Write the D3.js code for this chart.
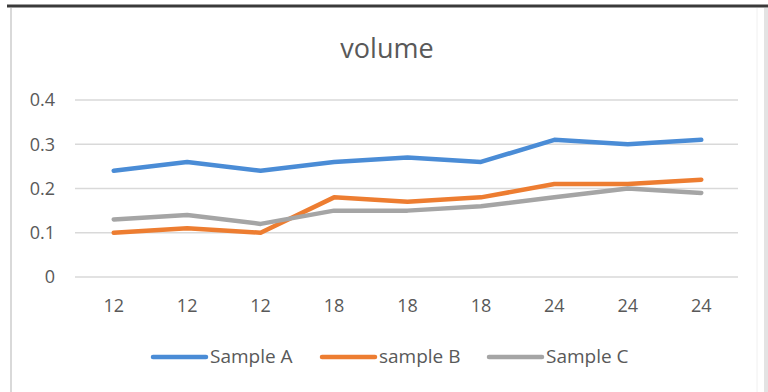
<!DOCTYPE html>
<html>
<head>
<meta charset="utf-8">
<script src="https://cdn.jsdelivr.net/npm/d3@7"></script>
<style>
  body { margin: 0; background: #fff; }
  svg { display: block; font-family: "Open Sans", "Noto Sans", sans-serif; }
</style>
</head>
<body>
<div id="chart"></div>
<script>
// data
const categories = ["12", "12", "12", "18", "18", "18", "24", "24", "24"];
const sampleA = [0.24, 0.26, 0.24, 0.26, 0.27, 0.26, 0.31, 0.30, 0.31];
const sampleB = [0.10, 0.11, 0.10, 0.18, 0.17, 0.18, 0.21, 0.21, 0.22];
const sampleC = [0.13, 0.14, 0.12, 0.15, 0.15, 0.16, 0.18, 0.20, 0.19];
const seriesNames = ["Sample A", "sample B", "Sample C"];
const yTicks = [0, 0.1, 0.2, 0.3, 0.4];

const colors = ["#4a8cd6", "#ed7d31", "#a5a5a5"];
const series = [sampleA, sampleB, sampleC].map((v, i) => ({name: seriesNames[i], values: v, color: colors[i]}));

const W = 768, H = 392;
const margin = {top: 100, right: 30, bottom: 115, left: 77};

const svg = d3.select("#chart").append("svg")
    .attr("width", W)
    .attr("height", H);

// outer frame
svg.append("rect").attr("x", 0).attr("y", 0).attr("width", W).attr("height", H).attr("fill", "#fff");
svg.append("line").attr("x1", 11).attr("x2", 11).attr("y1", 8).attr("y2", H)
    .attr("stroke", "#d9d9d9").attr("stroke-width", 2);
svg.append("line").attr("x1", 757).attr("x2", 757).attr("y1", 8).attr("y2", H)
    .attr("stroke", "#f0f0f0").attr("stroke-width", 1);
svg.append("line").attr("x1", 766).attr("x2", 766).attr("y1", 8).attr("y2", H)
    .attr("stroke", "#e3e3e3").attr("stroke-width", 4);
svg.append("line").attr("x1", 7).attr("x2", W).attr("y1", 6).attr("y2", 6)
    .attr("stroke", "#3a3a3a").attr("stroke-width", 3);

// title
svg.append("text")
    .attr("x", 387).attr("y", 58)
    .attr("text-anchor", "middle")
    .attr("fill", "#595959")
    .style("font-size", "27px")
    .text("volume");

const x = d3.scaleBand()
    .domain(d3.range(categories.length))
    .range([margin.left, W - margin.right]);

const y = d3.scaleLinear()
    .domain([0, 0.4])
    .range([H - margin.bottom, margin.top]);

// gridlines
svg.append("g")
    .selectAll("line")
    .data(yTicks)
    .join("line")
    .attr("x1", 75)
    .attr("x2", W - margin.right)
    .attr("y1", d => y(d))
    .attr("y2", d => y(d))
    .attr("stroke", "#d9d9d9")
    .attr("stroke-width", 1.5);

// y tick labels
svg.append("g")
    .selectAll("text")
    .data(yTicks)
    .join("text")
    .attr("x", 55)
    .attr("y", d => y(d))
    .attr("dy", "0.35em")
    .attr("text-anchor", "end")
    .attr("fill", "#595959")
    .style("font-size", "18px")
    .text(d => d === 0 ? "0" : d3.format(".1f")(d));

// x tick labels
svg.append("g")
    .selectAll("text")
    .data(categories)
    .join("text")
    .attr("x", (d, i) => x(i) + x.bandwidth() / 2)
    .attr("y", 312)
    .attr("text-anchor", "middle")
    .attr("fill", "#595959")
    .style("font-size", "18px")
    .text(d => d);

// lines
const line = d3.line()
    .x((d, i) => x(i) + x.bandwidth() / 2)
    .y(d => y(d));

svg.append("g")
    .selectAll("path")
    .data(series)
    .join("path")
    .attr("fill", "none")
    .attr("stroke", d => d.color)
    .attr("stroke-width", 4.5)
    .attr("stroke-linejoin", "round")
    .attr("stroke-linecap", "round")
    .attr("d", d => line(d.values));

// legend
const legendX = [153, 322, 489];
const legend = svg.append("g")
    .selectAll("g")
    .data(series)
    .join("g")
    .attr("transform", (d, i) => `translate(${legendX[i]}, 357)`);

legend.append("line")
    .attr("x1", 0).attr("x2", 53)
    .attr("stroke", d => d.color)
    .attr("stroke-width", 4.5)
    .attr("stroke-linecap", "round");

legend.append("text")
    .attr("x", 57)
    .attr("y", 6)
    .attr("fill", "#595959")
    .style("font-size", "19px")
    .text(d => d.name);
</script>
</body>
</html>
